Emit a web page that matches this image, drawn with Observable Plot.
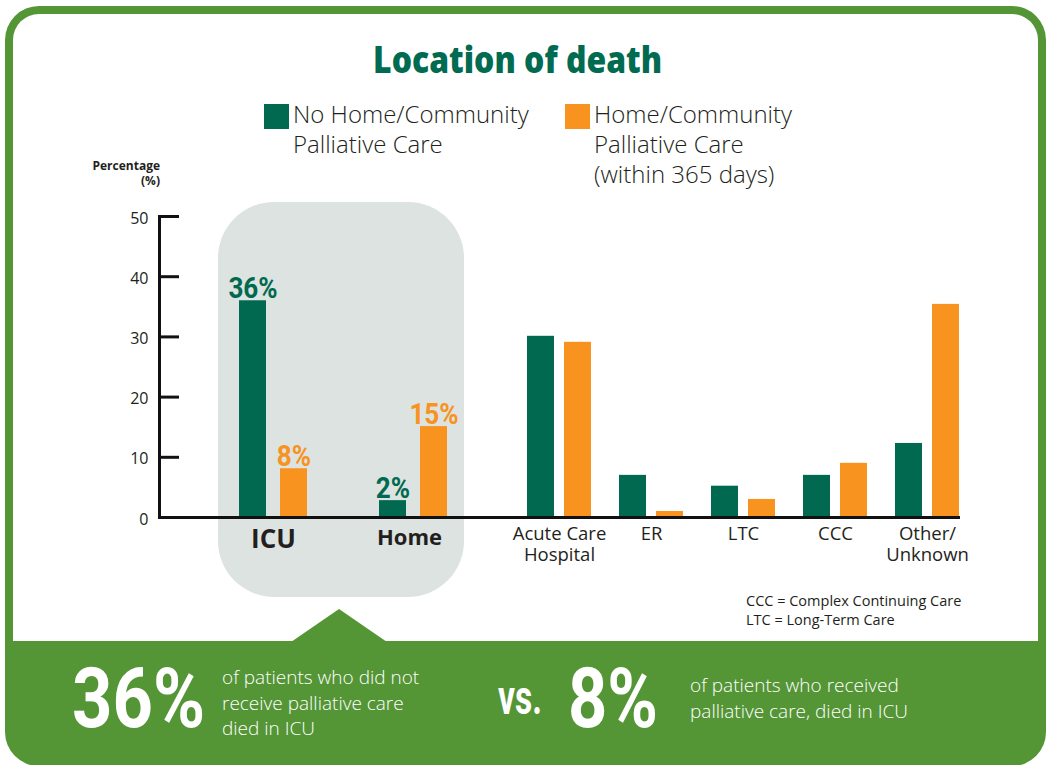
<!DOCTYPE html>
<html><head><meta charset="utf-8">
<script src="https://cdn.jsdelivr.net/npm/d3@7"></script>
<script src="https://cdn.jsdelivr.net/npm/@observablehq/plot@0.6"></script>
<style>
body{margin:0;width:1048px;height:765px;overflow:hidden;background:#fff;position:relative;font-family:"Open Sans",sans-serif;color:#231f20}
.abs{position:absolute;white-space:nowrap}
#frame{left:5px;top:6px;width:1041px;height:760px;border-radius:34px;background:#549536;overflow:hidden}
#panel{left:8px;top:8px;width:1025px;height:627px;background:#fff;border-radius:26px 26px 0 0}
#tri{left:291px;top:609px;width:96px;height:33px;background:#549536;clip-path:polygon(50% 0,100% 100%,0 100%)}
#hl{left:218px;top:202px;width:246px;height:395px;background:#dce3e0;border-radius:56px}
.title{left:0;width:1036px;text-align:center;top:40px;font-size:37px;line-height:37px;font-weight:800;color:#006b50}
.title span{display:inline-block;transform-origin:center}
.sw{width:25px;height:25px}
.leg{font-size:24px;line-height:30px;font-weight:300;color:#231f20}
.cond{font-family:Roboto,sans-serif;font-weight:700;color:#fff;transform-origin:left top}
.band{font-size:19px;line-height:25.5px;font-weight:300;color:#fff}
.note{font-size:14.5px;line-height:19px;color:#231f20}
</style></head>
<body>
<div id="frame" class="abs"><div id="panel" class="abs"></div></div>
<div id="tri" class="abs"></div>
<div id="hl" class="abs"></div>
<div id="chartA" class="abs" style="left:0;top:0"></div>
<div id="chartB" class="abs" style="left:480px;top:0"></div>
<div class="abs title"><span id="title">Location of death</span></div>
<div class="abs sw" style="left:264px;top:104px;background:#00694f"></div>
<div class="abs leg" style="left:293px;top:99px">No Home/Community<br>Palliative Care</div>
<div class="abs sw" style="left:565px;top:104px;background:#f7931e"></div>
<div class="abs leg" style="left:594px;top:99px">Home/Community<br>Palliative Care<br>(within 365 days)</div>
<div class="abs" style="right:888px;top:158px;font-size:12px;line-height:15px;font-weight:700;text-align:right">Percentage<br>(%)</div>
<div class="abs note" style="left:746px;top:591px">CCC = Complex Continuing Care<br>LTC = Long-Term Care</div>
<div class="abs cond" id="big1" data-w="133" style="left:72px;top:657px;font-size:83px;line-height:83px">36%</div>
<div class="abs band" style="left:222px;top:665px">of patients who did not<br>receive palliative care<br>died in ICU</div>
<div class="abs cond" id="vs" data-w="44" style="left:498px;top:673px;font-size:49px;line-height:49px">vs.</div>
<div class="abs cond" id="big2" data-w="90" style="left:568px;top:657px;font-size:83px;line-height:83px">8%</div>
<div class="abs band" style="left:690px;top:673px">of patients who received<br>palliative care, died in ICU</div>
<script>
const categories = ["ICU", "Home", "Acute Care\nHospital", "ER", "LTC", "CCC", "Other/\nUnknown"];
const noCare = [36.0, 2.8, 30.1, 7.0, 5.2, 7.0, 12.3];
const withCare = [8.1, 15.1, 29.1, 1.0, 3.0, 9.0, 35.4];
const highlighted = ["ICU", "Home"];
const noCareLabels = ["36%", "2%"];
const withCareLabels = ["8%", "15%"];
const yTicks = [0, 10, 20, 30, 40, 50];

const GREEN = "#00694f", ORANGE = "#f7931e", INK = "#111";
const rows = categories.map((c, i) => ({category: c, no: noCare[i], yes: withCare[i]}));
const rowsA = rows.filter(r => highlighted.includes(r.category));
const rowsB = rows.filter(r => !highlighted.includes(r.category));
const labNo = highlighted.map((c, i) => ({category: c, value: noCare[categories.indexOf(c)], text: noCareLabels[i]}));
const labYes = highlighted.map((c, i) => ({category: c, value: withCare[categories.indexOf(c)], text: withCareLabels[i]}));

const common = {
  height: 600, marginTop: 216, marginBottom: 83,
  style: {background: "transparent", fontFamily: "'Open Sans',sans-serif", color: "#231f20", overflow: "visible"},
  y: {domain: [0, 50], axis: null, label: null}
};

// Highlighted group (ICU, Home) with the y axis
const chartA = Plot.plot({
  ...common,
  width: 480, marginLeft: 159, marginRight: 0,
  x: {type: "band", domain: highlighted, paddingInner: 0.514, paddingOuter: 0.4, align: 0.705, axis: null, label: null},
  marks: [
    Plot.barY(rowsA, {x: "category", y: "no", fill: GREEN, insetRight: 41}),
    Plot.barY(rowsA, {x: "category", y: "yes", fill: ORANGE, insetLeft: 41}),
    Plot.text(labNo, {x: "category", y: "value", text: "text", dx: -20.5, dy: -3, lineAnchor: "bottom", fill: GREEN, fontSize: 29, fontWeight: 700, fontFamily: "Roboto"}),
    Plot.text(labYes, {x: "category", y: "value", text: "text", dx: 20.5, dy: -3, lineAnchor: "bottom", fill: ORANGE, fontSize: 29, fontWeight: 700, fontFamily: "Roboto"}),
    Plot.ruleY([0], {stroke: INK, strokeWidth: 3}),
    Plot.ruleY(yTicks, {y: d => d, stroke: INK, strokeWidth: 3, insetRight: 301}),
    Plot.frame({anchor: "left", stroke: INK, strokeWidth: 3}),
    Plot.axisY(yTicks, {tickSize: 0, tickPadding: 11, dy: 2, fontSize: 16, label: null}),
    Plot.axisX(["ICU"], {tickSize: 0, tickPadding: 12, fontSize: 26, fontWeight: 700, label: null}),
    Plot.axisX(["Home"], {tickSize: 0, tickPadding: 12, dx: -4, fontSize: 22, fontWeight: 700, label: null})
  ]
});

// Remaining locations
const chartB = Plot.plot({
  ...common,
  width: 568, marginLeft: 0, marginRight: 88,
  x: {type: "band", domain: rowsB.map(r => r.category), paddingInner: 0.308, paddingOuter: 0.2486, align: 0.978, axis: null, label: null},
  marks: [
    Plot.barY(rowsB, {x: "category", y: "no", fill: GREEN, insetRight: 37}),
    Plot.barY(rowsB, {x: "category", y: "yes", fill: ORANGE, insetLeft: 37}),
    Plot.ruleY([0], {stroke: INK, strokeWidth: 3}),
    Plot.axisX(rowsB.map(r => r.category), {tickSize: 0, tickPadding: 7, fontSize: 18.5, lineHeight: 1.16, label: null})
  ]
});

document.getElementById("chartA").appendChild(chartA);
document.getElementById("chartB").appendChild(chartB);

// condense the bold value labels (condensed face substitute)
d3.select(chartA).selectAll('g[aria-label="text"] text').each(function() {
  const w = this.getComputedTextLength();
  this.setAttribute("textLength", w * 0.9);
  this.setAttribute("lengthAdjust", "spacingAndGlyphs");
});
// fit the big band numbers and the title to their widths
document.querySelectorAll(".cond").forEach(el => {
  el.style.display = "inline-block";
  const s = (+el.dataset.w) / el.getBoundingClientRect().width;
  el.style.transform = `scaleX(${s})`;
});
const t = document.getElementById("title");
t.style.transform = `scaleX(${289 / t.getBoundingClientRect().width})`;
</script>
</body></html>
